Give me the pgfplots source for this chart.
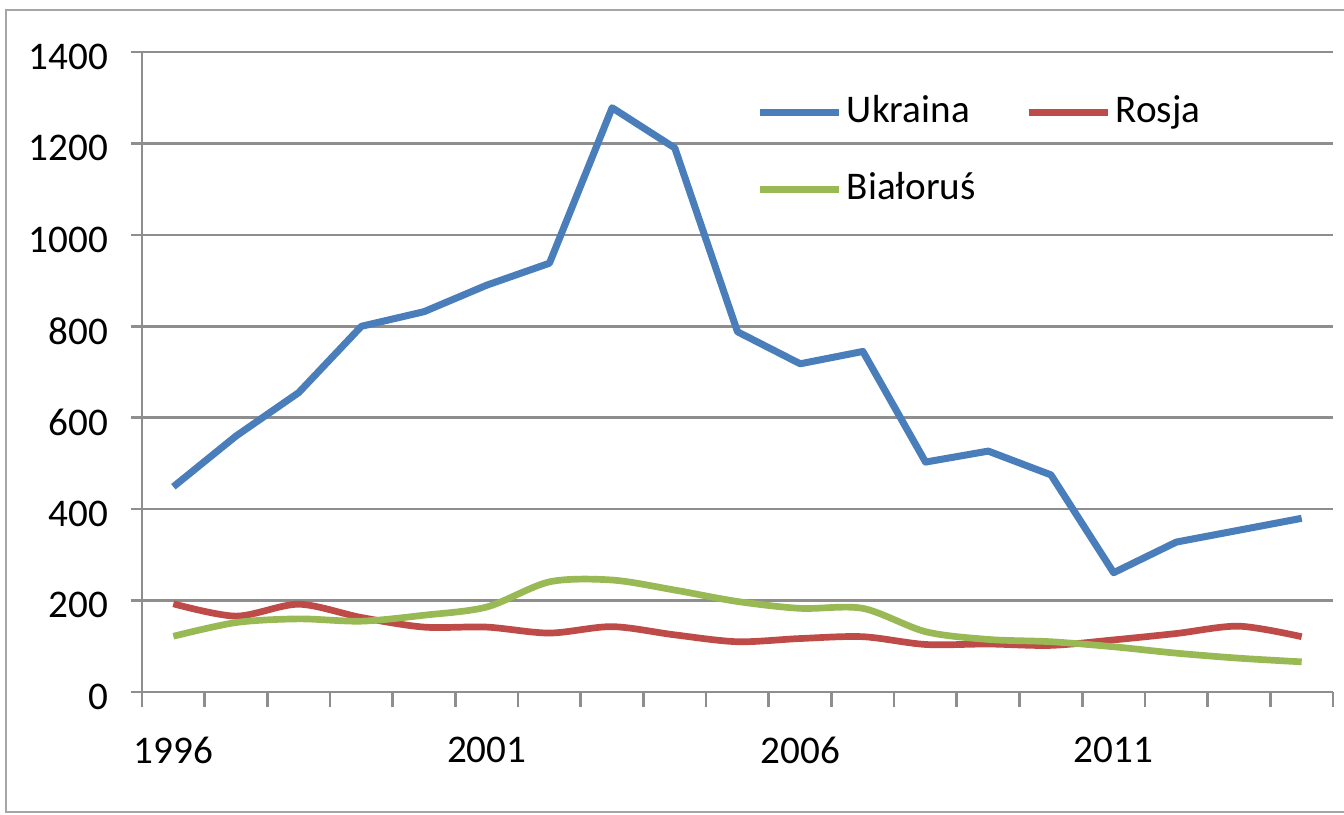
\documentclass[border=0pt]{standalone}
\usepackage{fontspec}
\setmainfont{Carlito}
\usepackage{pgfplots}
\pgfplotsset{compat=1.18}
\definecolor{ukr}{HTML}{4A7EBB}
\definecolor{ros}{HTML}{BE4B48}
\definecolor{bia}{HTML}{98B954}
\definecolor{gridgray}{HTML}{8E8E8E}
\definecolor{framegray}{HTML}{A6A6A6}

\begin{document}
\begin{tikzpicture}
\fontsize{11.7}{14}\selectfont
\path[use as bounding box] (-1.491,-1.281) rectangle (12.621,7.266);
\begin{axis}[
    scale only axis,
    width=12.5055cm, height=6.72cm,
    xmin=1995.5, xmax=2014.5,
    ymin=0, ymax=1400,
    axis lines*=left,
    axis line style={draw=gridgray, line width=0.8pt},
    tick align=outside,
    xtick={1996,2001,2006,2011},
    xticklabels={1996,2001,2006,2011},
    xtick style={draw=none},
    minor xtick={1995.5,1996.5,...,2014.5},
    minor x tick style={draw=gridgray, line width=0.8pt},
    minor tick length=0.16cm,
    major tick length=0.12cm,
    ytick={0,200,...,1400},
    yticklabels={0,200,400,600,800,1000,1200,1400},
    y tick style={draw=gridgray, line width=0.8pt},
    ymajorgrids,
    grid style={draw=gridgray, line width=0.8pt},
    xticklabel style={anchor=center, inner sep=0pt, yshift=-0.49cm},
    yticklabel style={anchor=east, inner sep=0pt, xshift=-0.23cm, yshift=-0.05cm},
    tick label style={font=\fontsize{11.7}{14}\selectfont},
    legend columns=2,
    legend cell align=left,
    legend style={at={(rel axis cs:0.515,0.936)}, anchor=north west,
        draw=none, fill=none, inner sep=0pt, row sep=0.41cm,
        font=\fontsize{11.7}{14}\selectfont,
        nodes={inner sep=0.05cm, text height=0.25cm, text depth=0.05cm},
        /tikz/every even column/.append style={column sep=0.47cm}},
    legend image code/.code={\draw[#1] (0cm,0cm) -- (0.83cm,0cm);},
]
\addplot[ukr, line width=2.1pt, line join=round] coordinates {
    (1996,449) (1997,560) (1998,655) (1999,800) (2000,832)
    (2001,890) (2002,938) (2003,1278) (2004,1190) (2005,788)
    (2006,718) (2007,745) (2008,503) (2009,527) (2010,475)
    (2011,261) (2012,328) (2013,354) (2014,380)
};
\addlegendentry{Ukraina}
\addplot[ros, line width=2pt, smooth, tension=0.5] coordinates {
    (1996,193) (1997,166) (1998,192) (1999,163) (2000,142)
    (2001,142) (2002,129) (2003,143) (2004,125) (2005,110)
    (2006,117) (2007,121) (2008,104) (2009,105) (2010,102)
    (2011,114) (2012,128) (2013,144) (2014,121)
};
\addlegendentry{Rosja}
\addplot[bia, line width=2pt, smooth, tension=0.5] coordinates {
    (1996,122) (1997,152) (1998,160) (1999,155) (2000,168)
    (2001,186) (2002,241) (2003,245) (2004,223) (2005,198)
    (2006,183) (2007,183) (2008,132) (2009,115) (2010,110)
    (2011,99) (2012,85) (2013,74) (2014,66)
};
\addlegendentry{Białoruś}
\end{axis}
\draw[framegray, line width=0.7pt] (12.8,7.161) -- (-1.428,7.161) -- (-1.428,-1.26) -- (12.8,-1.26);
\end{tikzpicture}
\end{document}
